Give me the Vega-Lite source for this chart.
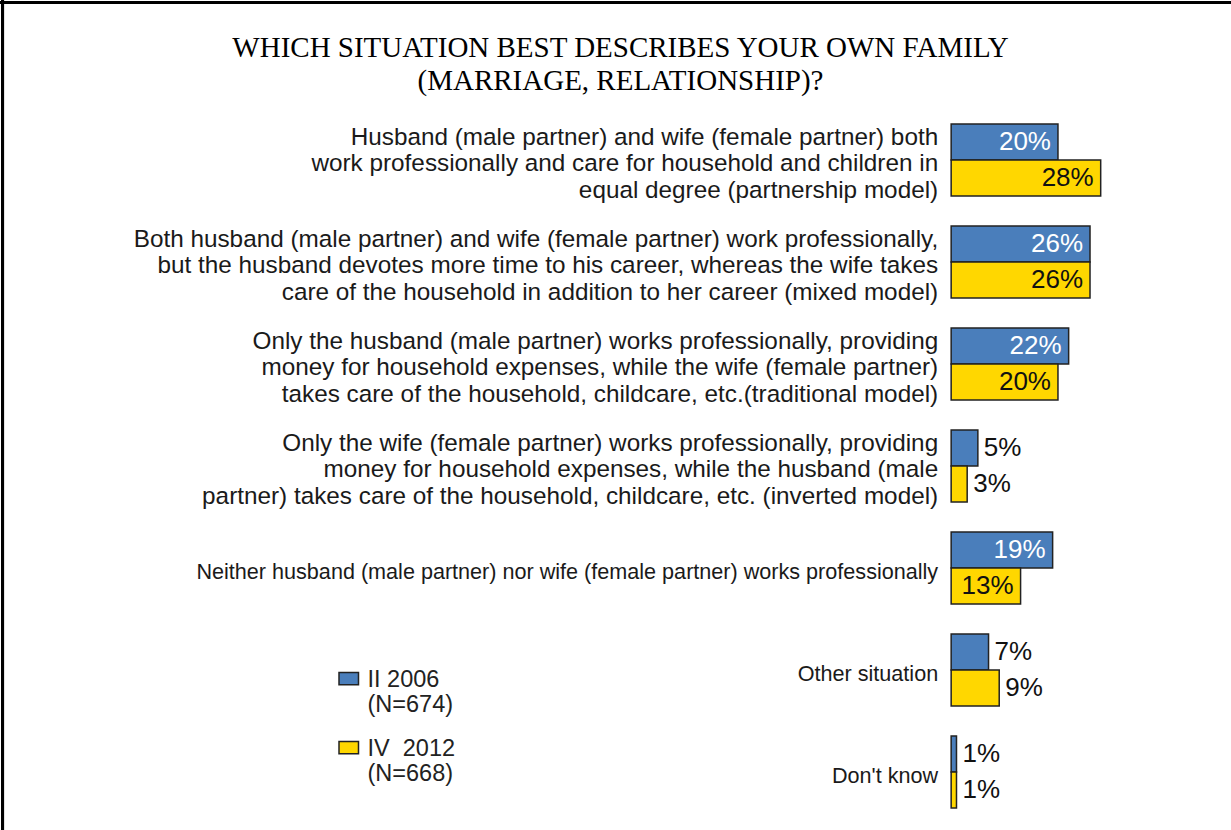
{
  "$schema": "https://vega.github.io/schema/vega-lite/v6.json",
  "width": 1231,
  "height": 830,
  "autosize": "none",
  "padding": 0,
  "background": "white",
  "config": {"view": {"stroke": null}},
  "title": {
    "text": ["WHICH SITUATION BEST DESCRIBES YOUR OWN FAMILY", "(MARRIAGE, RELATIONSHIP)?"],
    "font": "Liberation Serif",
    "fontSize": 29,
    "fontWeight": "normal",
    "color": "#000000",
    "anchor": "middle",
    "frame": "group",
    "orient": "top",
    "offset": -97,
    "lineHeight": 33,
    "dx": 5
  },
  "data": {
    "values": [
      {"cat": "partnership", "label": "Husband (male partner) and wife (female partner) both\nwork professionally and care for household and children in\nequal degree (partnership model)", "series": "II 2006", "value": 20},
      {"cat": "partnership", "label": "Husband (male partner) and wife (female partner) both\nwork professionally and care for household and children in\nequal degree (partnership model)", "series": "IV  2012", "value": 28},
      {"cat": "mixed", "label": "Both husband (male partner) and wife (female partner) work professionally,\nbut the husband devotes more time to his career, whereas the wife takes\ncare of the household in addition to her career (mixed model)", "series": "II 2006", "value": 26},
      {"cat": "mixed", "label": "Both husband (male partner) and wife (female partner) work professionally,\nbut the husband devotes more time to his career, whereas the wife takes\ncare of the household in addition to her career (mixed model)", "series": "IV  2012", "value": 26},
      {"cat": "traditional", "label": "Only the husband (male partner) works professionally, providing\nmoney for household expenses, while the wife (female partner)\ntakes care of the household, childcare, etc.(traditional model)", "series": "II 2006", "value": 22},
      {"cat": "traditional", "label": "Only the husband (male partner) works professionally, providing\nmoney for household expenses, while the wife (female partner)\ntakes care of the household, childcare, etc.(traditional model)", "series": "IV  2012", "value": 20},
      {"cat": "inverted", "label": "Only the wife (female partner) works professionally, providing\nmoney for household expenses, while the husband (male\npartner) takes care of the household, childcare, etc. (inverted model)", "series": "II 2006", "value": 5},
      {"cat": "inverted", "label": "Only the wife (female partner) works professionally, providing\nmoney for household expenses, while the husband (male\npartner) takes care of the household, childcare, etc. (inverted model)", "series": "IV  2012", "value": 3},
      {"cat": "neither", "label": "Neither husband (male partner) nor wife (female partner) works professionally", "series": "II 2006", "value": 19},
      {"cat": "neither", "label": "Neither husband (male partner) nor wife (female partner) works professionally", "series": "IV  2012", "value": 13},
      {"cat": "other", "label": "Other situation", "series": "II 2006", "value": 7},
      {"cat": "other", "label": "Other situation", "series": "IV  2012", "value": 9},
      {"cat": "dontknow", "label": "Don't know", "series": "II 2006", "value": 1},
      {"cat": "dontknow", "label": "Don't know", "series": "IV  2012", "value": 1}
    ]
  },
  "layer": [
    {
      "layer": [
        {
          "mark": {"type": "bar", "stroke": "#222222", "strokeWidth": 1.5},
          "encoding": {
            "y": {"field": "cat", "type": "nominal", "axis": null,
                  "scale": {"domain": ["partnership", "mixed", "traditional", "inverted", "neither", "other", "dontknow"], "paddingInner": 0.294, "paddingOuter": 0.7157, "align": 0.849}},
            "yOffset": {"field": "series", "type": "nominal",
                        "scale": {"domain": ["II 2006", "IV  2012"], "paddingInner": 0, "paddingOuter": 0}},
            "x": {"field": "value", "type": "quantitative", "axis": null,
                  "scale": {"domain": [-178.1, 52.4], "nice": false, "zero": false}},
            "x2": {"datum": 0},
            "color": {
              "field": "series", "type": "nominal",
              "scale": {"domain": ["II 2006", "IV  2012"], "range": ["#4a7ebb", "#ffd700"]},
              "legend": {
                "orient": "none",
                "legendX": 337,
                "legendY": 656,
                "title": null,
                "direction": "vertical",
                "symbolType": "M-1,0.484H1V1.747H-1Z",
                "symbolSize": 380,
                "symbolStrokeColor": "#222222",
                "symbolStrokeWidth": 1.5,
                "labelFont": "Liberation Sans",
                "labelFontSize": 23.5,
                "labelColor": "#222222",
                "labelBaseline": "top",
                "labelOffset": 7,
                "rowPadding": 8,
                "labelExpr": "datum.label == 'II 2006' ? ['II 2006', '(N=674)'] : ['IV\u00a0\u00a02012', '(N=668)']"
              }
            }
          }
        },
        {
          "transform": [{"filter": "datum.value >= 10"}],
          "mark": {"type": "text", "align": "right", "baseline": "middle", "dx": -7, "font": "Liberation Sans", "fontSize": 26},
          "encoding": {
            "y": {"field": "cat", "type": "nominal"},
            "yOffset": {"field": "series", "type": "nominal"},
            "x": {"field": "value", "type": "quantitative"},
            "text": {"value": {"expr": "datum.value + '%'"}},
            "color": {"condition": {"test": "datum.series == 'II 2006'", "value": "#ffffff"}, "value": "#111111"}
          }
        },
        {
          "transform": [{"filter": "datum.value < 10"}],
          "mark": {"type": "text", "align": "left", "baseline": "middle", "dx": 6, "font": "Liberation Sans", "fontSize": 26, "color": "#111111"},
          "encoding": {
            "y": {"field": "cat", "type": "nominal"},
            "yOffset": {"field": "series", "type": "nominal"},
            "x": {"field": "value", "type": "quantitative"},
            "text": {"value": {"expr": "datum.value + '%'"}}
          }
        },
        {
          "transform": [
            {"filter": "datum.series == 'II 2006'"},
            {"filter": "indexof(['partnership','mixed','traditional','inverted'], datum.cat) >= 0"}
          ],
          "mark": {"type": "text", "align": "right", "baseline": "middle", "dx": -13, "dy": -22, "font": "Liberation Sans", "fontSize": 24.3, "lineHeight": 26.5, "lineBreak": "\n", "color": "#1a1a1a"},
          "encoding": {
            "y": {"field": "cat", "type": "nominal"},
            "x": {"datum": 0},
            "text": {"field": "label", "type": "nominal"}
          }
        },
        {
          "transform": [
            {"filter": "datum.series == 'II 2006'"},
            {"filter": "indexof(['partnership','mixed','traditional','inverted'], datum.cat) < 0"}
          ],
          "mark": {"type": "text", "align": "right", "baseline": "middle", "dx": -13, "dy": 5, "font": "Liberation Sans", "fontSize": 21.6, "color": "#1a1a1a"},
          "encoding": {
            "y": {"field": "cat", "type": "nominal"},
            "x": {"datum": 0},
            "text": {"field": "label", "type": "nominal"}
          }
        }
      ]
    },
    {
      "layer": [
        {
          "mark": {"type": "rule", "color": "#000000", "strokeWidth": 3},
          "encoding": {"x": {"datum": -177.63}}
        },
        {
          "mark": {"type": "rule", "color": "#000000", "strokeWidth": 3},
          "encoding": {
            "x": {"datum": -178.1},
            "x2": {"datum": 52.4},
            "y": {"datum": 2.5, "type": "quantitative", "axis": null,
                  "scale": {"domain": [0, 830], "nice": false, "zero": false, "reverse": true}}
          }
        }
      ]
    }
  ],
  "resolve": {"scale": {"y": "independent"}}
}
